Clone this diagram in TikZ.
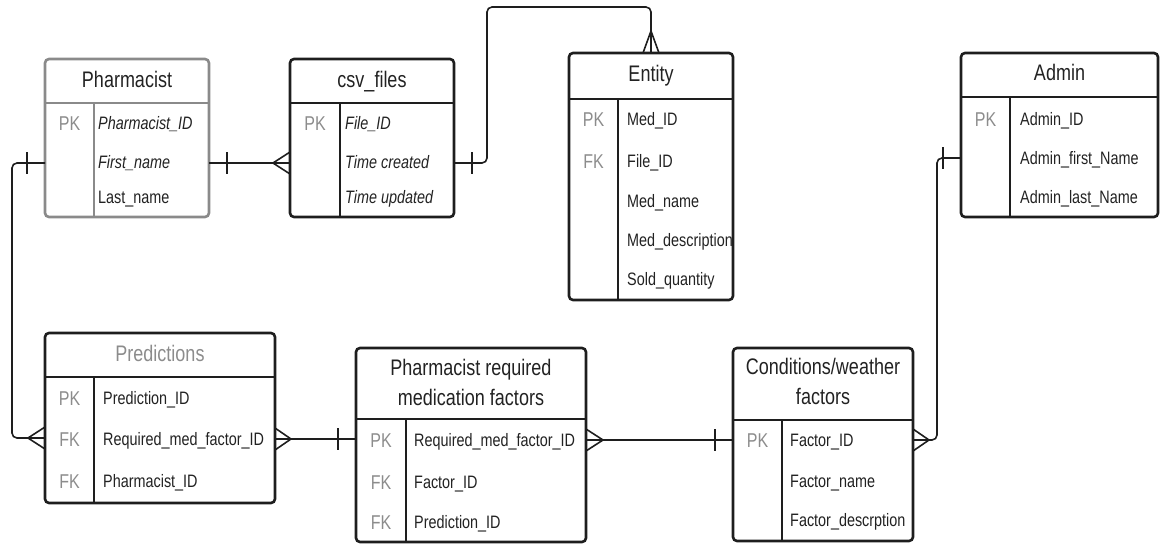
\documentclass[tikz,border=0pt]{standalone}
\usepackage{fontspec}
\setmainfont{Liberation Sans}[FakeStretch=0.80]
\definecolor{linec}{RGB}{30,30,30}
\definecolor{txtc}{RGB}{34,34,34}
\definecolor{keyc}{RGB}{140,140,140}
\definecolor{grayb}{RGB}{138,138,138}
\tikzset{
  ebox/.style={draw=linec, line width=2.6pt, rounded corners=4pt, inner sep=0pt, outer sep=0pt},
  sepl/.style={draw=linec, line width=2.6pt},
  conn/.style={draw=linec, line width=1.6pt},
  ttl/.style={font=\fontsize{22.5}{30}\selectfont, text=txtc, inner sep=0pt, anchor=base},
  ttltwo/.style={font=\fontsize{22.5}{30}\selectfont, text=txtc, inner sep=0pt, align=center},
  row/.style={font=\fontsize{18}{20}\selectfont, text=txtc, inner sep=0pt, anchor=base west},
  irow/.style={row, font=\fontsize{18}{20}\selectfont\itshape},
  keyt/.style={font=\fontsize{20}{22}\selectfont, text=keyc, inner sep=0pt, anchor=base},
}
\begin{document}
\begin{tikzpicture}[x=1pt, y=-1pt]
\useasboundingbox (0,0) rectangle (1160,544);

% ---------- Pharmacist ----------
\node[ebox, draw=grayb, minimum width=164pt, minimum height=158pt] (pharm) at (127,138) {};
\draw[sepl, draw=grayb] (45,103) -- (209,103);
\draw[sepl, draw=grayb] (94,103) -- (94,217);
\node[ttl] (pharmT) at (127,87) {Pharmacist};
\node[keyt] (pharmK1) at (69.5,130.2) {PK};
\node[irow] (pharmR1) at (98,129.5) {Pharmacist\_ID};
\node[irow] (pharmR2) at (98,168.5) {First\_name};
\node[row] (pharmR3) at (98,203.5) {Last\_name};

% ---------- csv_files ----------
\node[ebox, minimum width=164pt, minimum height=158pt] (csv) at (372,138) {};
\draw[sepl] (290,103) -- (454,103);
\draw[sepl] (340,103) -- (340,217);
\node[ttl] (csvT) at (372,87) {csv\_files};
\node[keyt] (csvK1) at (315,130.2) {PK};
\node[irow] (csvR1) at (345,129.5) {File\_ID};
\node[irow] (csvR2) at (345,168.5) {Time created};
\node[irow] (csvR3) at (345,203.5) {Time updated};

% ---------- Entity ----------
\node[ebox, minimum width=164pt, minimum height=247pt] (entity) at (651,176.5) {};
\draw[sepl] (569,99) -- (733,99);
\draw[sepl] (618,99) -- (618,300);
\node[ttl] (entityT) at (651,81) {Entity};
\node[keyt] (entityK1) at (593.5,126.2) {PK};
\node[keyt] (entityK2) at (593.5,168.2) {FK};
\node[row] (entityR1) at (627,125.5) {Med\_ID};
\node[row] (entityR2) at (627,167.5) {File\_ID};
\node[row] (entityR3) at (627,207.5) {Med\_name};
\node[row] (entityR4) at (627,246.5) {Med\_description};
\node[row] (entityR5) at (627,285.5) {Sold\_quantity};

% ---------- Admin ----------
\node[ebox, minimum width=197pt, minimum height=164pt] (admin) at (1059.5,135) {};
\draw[sepl] (961,97) -- (1158,97);
\draw[sepl] (1010,97) -- (1010,217);
\node[ttl] (adminT) at (1059.5,80.5) {Admin};
\node[keyt] (adminK1) at (985.5,126.2) {PK};
\node[row] (adminR1) at (1020,125.5) {Admin\_ID};
\node[row] (adminR2) at (1020,164.5) {Admin\_first\_Name};
\node[row] (adminR3) at (1020,203.5) {Admin\_last\_Name};

% ---------- Predictions ----------
\node[ebox, minimum width=230pt, minimum height=170pt] (pred) at (160,418) {};
\draw[sepl] (45,377) -- (275,377);
\draw[sepl] (94,377) -- (94,503);
\node[ttl, text=keyc] (predT) at (160,361) {Predictions};
\node[keyt] (predK1) at (69.5,405.2) {PK};
\node[keyt] (predK2) at (69.5,446.2) {FK};
\node[keyt] (predK3) at (69.5,488.2) {FK};
\node[row] (predR1) at (103,404.5) {Prediction\_ID};
\node[row] (predR2) at (103,445.5) {Required\_med\_factor\_ID};
\node[row] (predR3) at (103,487.5) {Pharmacist\_ID};

% ---------- Pharmacist required medication factors ----------
\node[ebox, minimum width=230pt, minimum height=194pt] (prmf) at (471,445) {};
\draw[sepl] (356,419) -- (586,419);
\draw[sepl] (406,419) -- (406,542);
\node[ttltwo] (prmfT) at (471,382) {Pharmacist required\\medication factors};
\node[keyt] (prmfK1) at (381,447.2) {PK};
\node[keyt] (prmfK2) at (381,489.2) {FK};
\node[keyt] (prmfK3) at (381,529.2) {FK};
\node[row] (prmfR1) at (414,446.5) {Required\_med\_factor\_ID};
\node[row] (prmfR2) at (414,488.5) {Factor\_ID};
\node[row] (prmfR3) at (414,528.5) {Prediction\_ID};

% ---------- Conditions/weather factors ----------
\node[ebox, minimum width=180pt, minimum height=193pt] (cond) at (823,444.5) {};
\draw[sepl] (733,420) -- (913,420);
\draw[sepl] (782,420) -- (782,541);
\node[ttltwo] (condT) at (823,381.5) {Conditions/weather\\factors};
\node[keyt] (condK1) at (757.5,447.2) {PK};
\node[row] (condR1) at (790,446.5) {Factor\_ID};
\node[row] (condR2) at (790,487) {Factor\_name};
\node[row] (condR3) at (790,526.5) {Factor\_descrption};

% ---------- Connectors ----------
% Pharmacist -- csv_files
\draw[conn] (pharm.east |- 0,163) -- (csv.west |- 0,163);
\draw[conn] (227,152) -- (227,174);
\draw[conn] (csv.west |- 0,152) -- (273,163) -- (csv.west |- 0,174);

% Pharmacist -- Predictions
\draw[conn, rounded corners=5pt] (pharm.west |- 0,163) -- (12,163) -- (12,438) -- (pred.west |- 0,438);
\draw[conn] (27,152) -- (27,174);
\draw[conn] (pred.west |- 0,427) -- (28,438) -- (pred.west |- 0,449);

% Predictions -- PRMF
\draw[conn] (pred.east |- 0,439) -- (prmf.west |- 0,439);
\draw[conn] (pred.east |- 0,428) -- (291,439) -- (pred.east |- 0,450);
\draw[conn] (338,428) -- (338,450);

% PRMF -- Conditions
\draw[conn] (prmf.east |- 0,440) -- (cond.west |- 0,440);
\draw[conn] (prmf.east |- 0,429) -- (603,440) -- (prmf.east |- 0,451);
\draw[conn] (715,429) -- (715,451);

% Conditions -- Admin
\draw[conn, rounded corners=5pt] (cond.east |- 0,440) -- (937,440) -- (937,158) -- (admin.west |- 0,158);
\draw[conn] (cond.east |- 0,429) -- (929,440) -- (cond.east |- 0,451);
\draw[conn] (943,147) -- (943,169);

% csv_files -- Entity
\draw[conn, rounded corners=5pt] (csv.east |- 0,163) -- (487,163) -- (487,7) -- (651,7) -- (entity.north);
\draw[conn] (472,152) -- (472,174);
\draw[conn] (643,53) -- (651,31) -- (659,53);
\end{tikzpicture}
\end{document}
